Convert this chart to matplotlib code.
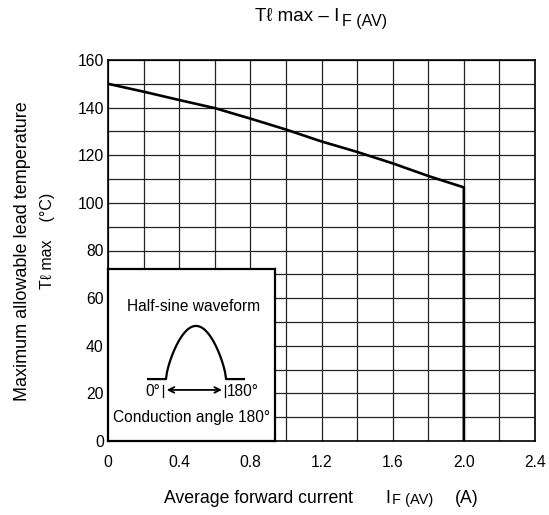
#!/usr/bin/env python3
"""
Lead temperature derating curve: Tl max vs IF(AV)
"""

import matplotlib
matplotlib.use('Agg')
import matplotlib.pyplot as plt
import numpy as np

plt.rcParams['font.family'] = ['Liberation Sans', 'DejaVu Sans']

# Data
current_a = [0.0, 0.2, 0.4, 0.6, 0.8, 1.0, 1.2, 1.4, 1.6, 1.8, 2.0, 2.0]
temp_c = [150.0, 146.7, 143.2, 139.8, 135.4, 130.8, 125.8, 121.4, 116.6, 111.3, 106.5, 0.0]

x_ticks = [0, 0.4, 0.8, 1.2, 1.6, 2.0, 2.4]
x_tick_labels = ['0', '0.4', '0.8', '1.2', '1.6', '2.0', '2.4']
y_ticks = [0, 20, 40, 60, 80, 100, 120, 140, 160]

W, H = 549, 515


def fx(px):
    return px / W


def fy(py):
    return 1 - py / H


def create_chart():
    fig = plt.figure(figsize=(W / 100, H / 100), dpi=100)
    ax = fig.add_axes([fx(108), fy(441), fx(535) - fx(108), fy(60) - fy(441)])

    # grid every 0.2 A and every 10 degC
    ax.set_xticks(np.arange(0, 2.41, 0.2), minor=True)
    ax.set_yticks(np.arange(0, 161, 10), minor=True)
    ax.grid(True, which='both', color='#222222', linewidth=0.9)
    ax.set_axisbelow(True)

    ax.plot(current_a, temp_c, color='black', linewidth=1.9, solid_joinstyle='round')

    ax.set_xlim(0, 2.4)
    ax.set_ylim(0, 160)
    ax.set_xticks(x_ticks)
    ax.set_xticklabels(x_tick_labels)
    ax.set_yticks(y_ticks)
    ax.tick_params(which='both', length=0, labelsize=11.3)
    ax.tick_params(axis='x', pad=10)
    ax.tick_params(axis='y', pad=3)
    for s in ax.spines.values():
        s.set_linewidth(1.2)

    # title: T-ell max - I with F (AV) subscript
    fig.text(fx(339), fy(21), 'Tℓ max – I', ha='right', va='baseline', fontsize=13.5)
    fig.text(fx(342), fy(26), 'F (AV)', ha='left', va='baseline', fontsize=11.5)

    # x label
    fig.text(fx(164), fy(503), 'Average forward current', ha='left', va='baseline', fontsize=12.7)
    fig.text(fx(385), fy(503), 'I', ha='left', va='baseline', fontsize=12.7)
    fig.text(fx(392), fy(504), 'F (AV)', ha='left', va='baseline', fontsize=10.5)
    fig.text(fx(455), fy(503), '(A)', ha='left', va='baseline', fontsize=12.7)

    # y label, two lines
    fig.text(fx(27), fy(251), 'Maximum allowable lead temperature', rotation=90,
             rotation_mode='anchor', ha='center', va='baseline', fontsize=13)
    fig.text(fx(52), fy(241), 'Tℓ max    (°C)', rotation=90,
             rotation_mode='anchor', ha='center', va='baseline', fontsize=11.5)

    # inset box with waveform sketch
    ins = fig.add_axes([fx(108), fy(441), fx(275) - fx(108), fy(269) - fy(441)])
    ins.set_xlim(0, 1)
    ins.set_ylim(0, 1)
    ins.set_xticks([])
    ins.set_yticks([])
    ins.set_facecolor('white')
    for s in ins.spines.values():
        s.set_linewidth(1.6)

    ins.text(0.51, 0.78, 'Half-sine waveform', ha='center', va='center', fontsize=11.2)
    t = np.linspace(0, np.pi, 60)
    wx = np.concatenate([[0.24], 0.347 + (0.707 - 0.347) * t / np.pi, [0.814]])
    wy = np.concatenate([[0.36], 0.36 + 0.309 * np.sin(t) ** 0.7, [0.36]])
    ins.plot(wx, wy, color='black', linewidth=1.6)
    ins.plot([0.331, 0.331], [0.256, 0.326], color='black', linewidth=0.9)
    ins.plot([0.703, 0.703], [0.256, 0.326], color='black', linewidth=0.9)
    ins.annotate('', xy=(0.335, 0.297), xytext=(0.699, 0.297),
                 arrowprops=dict(arrowstyle='<->', color='black', lw=1.3))
    ins.text(0.315, 0.285, '0°', ha='right', va='center', fontsize=11.2)
    ins.text(0.712, 0.285, '180°', ha='left', va='center', fontsize=11.2)
    ins.text(0.5, 0.135, 'Conduction angle 180°', ha='center', va='center', fontsize=11.2)

    return fig


def main():
    fig = create_chart()
    fig.savefig('out.png', dpi=100)


if __name__ == "__main__":
    main()
